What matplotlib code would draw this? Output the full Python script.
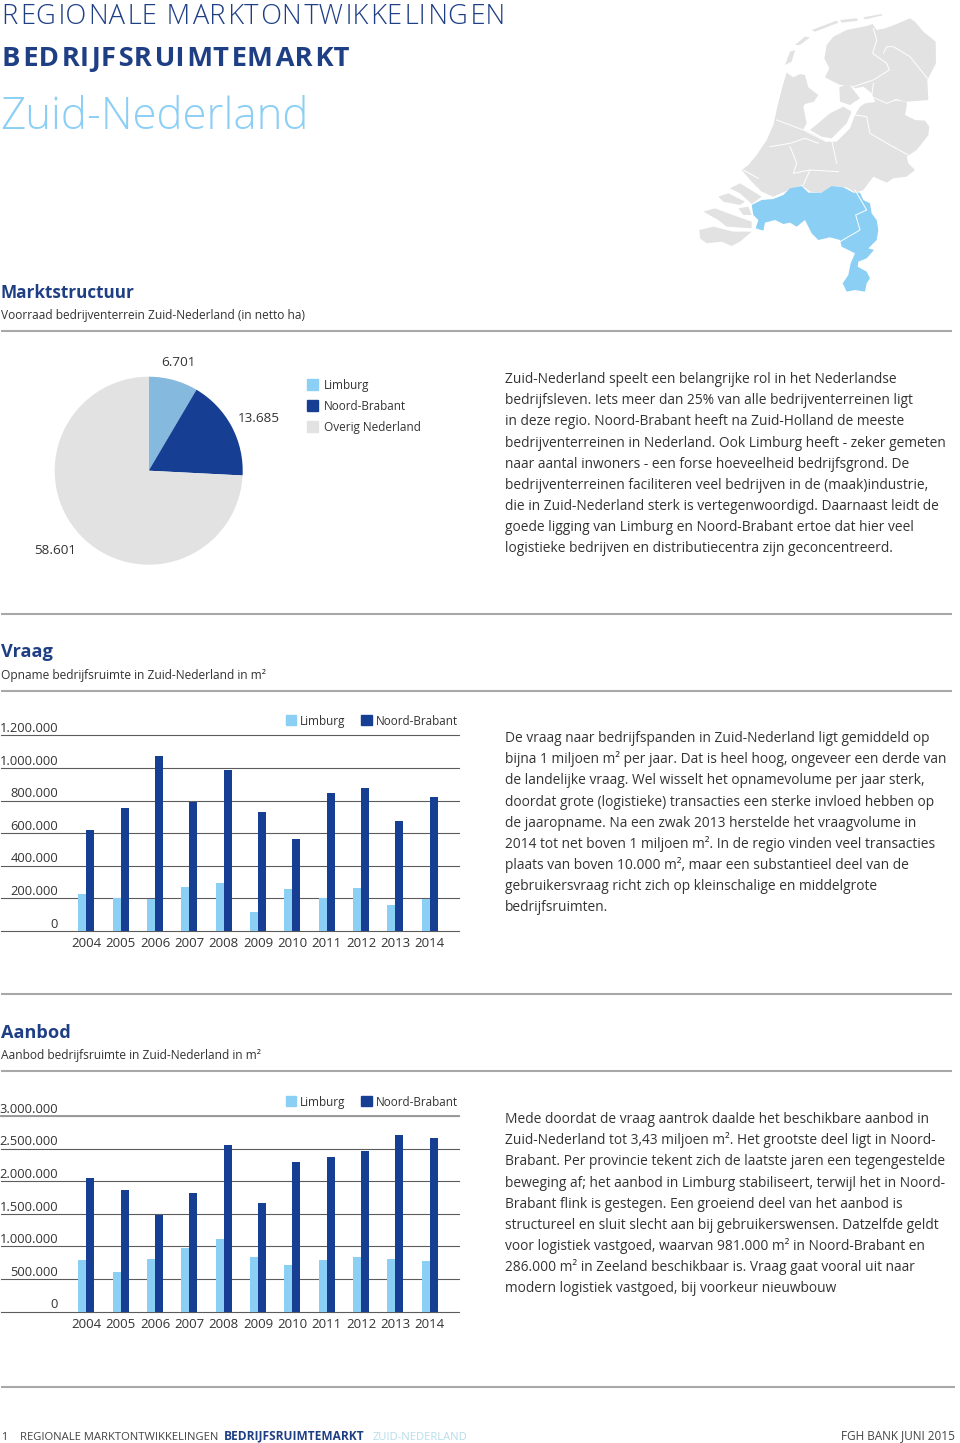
import matplotlib
matplotlib.use("Agg")
import matplotlib.pyplot as plt
from matplotlib.patches import Polygon, Rectangle

plt.rcParams['font.family'] = ['Open Sans', 'DejaVu Sans']

W, H = 960, 1443
LIGHT = '#8ccff5'
DARK = '#163f94'
HEAD = '#1f3f85'
GREY = '#e2e2e2'
TEXT = '#333333'

# taartdiagram
pie_labels = ['Limburg', 'Noord-Brabant', 'Overig Nederland']
pie_values = [6701, 13685, 58601]
pie_texts = ['6.701', '13.685', '58.601']

# staafdiagrammen
years = ['2004', '2005', '2006', '2007', '2008', '2009', '2010', '2011', '2012', '2013', '2014']
vraag_limburg = [227000, 202000, 196000, 270000, 294000, 117000, 255000, 202000, 262000, 161000, 198000]
vraag_brabant = [621000, 752000, 1075000, 793000, 985000, 730000, 564000, 844000, 875000, 675000, 820000]
vraag_ticks = [0, 200000, 400000, 600000, 800000, 1000000, 1200000]
aanbod_limburg = [792000, 608000, 807000, 971000, 1119000, 833000, 716000, 797000, 833000, 813000, 777000]
aanbod_brabant = [2044000, 1870000, 1482000, 1824000, 2550000, 1666000, 2290000, 2366000, 2468000, 2714000, 2668000]
aanbod_ticks = [0, 500000, 1000000, 1500000, 2000000, 2500000, 3000000]

tekst_markt = [
    'Zuid-Nederland speelt een belangrijke rol in het Nederlandse',
    'bedrijfsleven. Iets meer dan 25% van alle bedrijventerreinen ligt',
    'in deze regio. Noord-Brabant heeft na Zuid-Holland de meeste',
    'bedrijventerreinen in Nederland. Ook Limburg heeft - zeker gemeten',
    'naar aantal inwoners - een forse hoeveelheid bedrijfsgrond. De',
    'bedrijventerreinen faciliteren veel bedrijven in de (maak)industrie,',
    'die in Zuid-Nederland sterk is vertegenwoordigd. Daarnaast leidt de',
    'goede ligging van Limburg en Noord-Brabant ertoe dat hier veel',
    'logistieke bedrijven en distributiecentra zijn geconcentreerd.',
]
tekst_vraag = [
    'De vraag naar bedrijfspanden in Zuid-Nederland ligt gemiddeld op',
    'bijna 1 miljoen m² per jaar. Dat is heel hoog, ongeveer een derde van',
    'de landelijke vraag. Wel wisselt het opnamevolume per jaar sterk,',
    'doordat grote (logistieke) transacties een sterke invloed hebben op',
    'de jaaropname. Na een zwak 2013 herstelde het vraagvolume in',
    '2014 tot net boven 1 miljoen m². In de regio vinden veel transacties',
    'plaats van boven 10.000 m², maar een substantieel deel van de',
    'gebruikersvraag richt zich op kleinschalige en middelgrote',
    'bedrijfsruimten.',
]
tekst_aanbod = [
    'Mede doordat de vraag aantrok daalde het beschikbare aanbod in',
    'Zuid-Nederland tot 3,43 miljoen m². Het grootste deel ligt in Noord-',
    'Brabant. Per provincie tekent zich de laatste jaren een tegengestelde',
    'beweging af; het aanbod in Limburg stabiliseert, terwijl het in Noord-',
    'Brabant flink is gestegen. Een groeiend deel van het aanbod is',
    'structureel en sluit slecht aan bij gebruikerswensen. Datzelfde geldt',
    'voor logistiek vastgoed, waarvan 981.000 m² in Noord-Brabant en',
    '286.000 m² in Zeeland beschikbaar is. Vraag gaat vooral uit naar',
    'modern logistiek vastgoed, bij voorkeur nieuwbouw',
]

# kaart, overgetrokken in pixels van de uitsnede
kaart_grijs = [
    [(290, 218), (310, 232), (330, 222), (345, 225), (355, 262), (385, 285), (372, 305), (345, 312), (340, 320), (350, 370),
     (340, 388), (375, 405), (410, 425), (440, 425), (480, 385), (495, 345), (510, 320), (525, 310), (600, 300), (650, 305),
     (650, 320), (645, 345), (675, 360), (705, 362), (718, 380), (715, 405), (700, 425), (680, 450), (650, 470), (655, 490),
     (675, 510), (650, 530), (610, 535), (590, 548), (550, 530), (520, 570), (497, 578), (470, 562), (425, 558), (400, 578),
     (360, 575), (335, 555), (300, 568), (250, 590), (215, 575), (185, 545), (155, 510), (175, 495), (200, 465), (230, 420),
     (250, 375), (262, 320), (280, 250)],
    [(410, 135), (430, 110), (470, 90), (530, 78), (548, 72), (560, 90), (585, 85), (620, 72), (660, 55), (675, 65),
     (700, 95), (737, 125), (738, 190), (725, 215), (712, 240), (715, 300), (650, 305), (620, 298), (590, 310), (555, 305),
     (545, 280), (520, 260), (495, 265), (480, 255), (450, 255), (420, 240), (405, 232), (418, 205), (403, 175)],
    [(360, 390), (420, 340), (460, 320), (485, 335), (470, 370), (425, 415), (395, 410)],
    [(448, 262), (475, 250), (510, 295), (480, 315), (450, 305)],
    [(285, 195), (300, 155), (315, 150), (305, 185)],
    [(315, 135), (345, 110), (360, 112), (330, 135)],
    [(365, 90), (440, 62), (445, 68), (375, 95)],
    [(450, 60), (500, 55), (505, 62), (455, 68)],
    [(520, 52), (575, 42), (578, 46), (525, 58)],
    [(120, 565), (150, 550), (215, 590), (185, 612), (150, 580)],
    [(85, 590), (115, 580), (165, 605), (150, 615), (100, 605)],
    [(40, 635), (75, 625), (115, 640), (185, 665), (185, 685), (110, 680), (85, 660)],
    [(28, 690), (70, 680), (130, 695), (185, 695), (150, 725), (125, 738), (95, 725), (50, 730), (30, 715)],
    [(145, 625), (175, 620), (185, 645), (160, 645)],
]
kaart_blauw = [(185, 615), (215, 600), (250, 597), (280, 585), (300, 565), (335, 558), (355, 578), (395, 578), (425, 558),
               (460, 562), (490, 578), (510, 578), (520, 600), (540, 610), (545, 640), (560, 660), (565, 690), (560, 720),
               (535, 745), (552, 750), (530, 775), (505, 785), (503, 800), (530, 815), (540, 835), (530, 850), (525, 875),
               (495, 870), (470, 875), (458, 850), (475, 825), (482, 790), (495, 760), (455, 740), (450, 720), (420, 712),
               (385, 720), (365, 700), (345, 660), (320, 680), (300, 668), (280, 672), (255, 660), (225, 668), (220, 692),
               (197, 685), (205, 660), (190, 645)]
kaart_lijnen = [
    [(550, 85), (560, 120), (548, 160), (590, 190), (598, 210), (550, 240), (490, 260)],
    [(580, 160), (590, 140), (610, 140), (660, 170), (712, 235)],
    [(550, 250), (545, 290), (590, 310), (620, 298)],
    [(260, 360), (340, 390), (410, 425)],
    [(240, 440), (300, 430), (345, 415), (385, 430)],
    [(300, 440), (320, 490), (310, 520), (360, 510), (445, 515)],
    [(425, 420), (440, 490)],
    [(495, 345), (530, 350), (540, 400), (600, 435), (655, 465)],
    [(360, 510), (340, 555)],
    [(160, 510), (205, 535)],
    [(495, 570), (530, 630), (497, 645), (510, 690), (450, 725)],
]


def kaart_xy(pts):
    return [(690 + x / 3, y / 3) for x, y in pts]


def spaced(s):
    # matplotlib kent geen letterspatiering: om de letter een hair space
    out = ''
    for i, c in enumerate(s):
        out += c
        if i % 2 == 0 and i < len(s) - 1:
            out += '\u200a'
    return out


fig = plt.figure(figsize=(W / 100, H / 100), dpi=100)
page = fig.add_axes([0, 0, 1, 1])
page.set_xlim(0, W)
page.set_ylim(H, 0)
page.axis('off')
renderer = fig.canvas.get_renderer()


def put(x, y, s, size=9.9, color=TEXT, width=None, ha='left', **kw):
    t = page.text(x, y, s, fontsize=size, color=color, ha=ha, va='baseline', **kw)
    if width is not None:  # lettergrootte passend maken op de breedte
        w = t.get_window_extent(renderer).width
        t.set_fontsize(size * width / w)
    return t


def rule(y, x1=1, x2=952):
    page.plot([x1, x2], [y, y], color='#a8a8a8', lw=1.5, solid_capstyle='butt')


def block(lines, y0):
    for i, s in enumerate(lines):
        put(505, y0 + 21.17 * i, s)


def px_axes(left, top, right, bottom):
    return fig.add_axes([left / W, 1 - bottom / H, (right - left) / W, (bottom - top) / H])


def bars(top, bottom, limburg, brabant, ticks):
    ax = px_axes(1, top, 459, bottom)
    ax.patch.set_visible(False)
    step = 34.34
    ax.set_xlim((1 - 86.3) / step, (459 - 86.3) / step)
    ax.set_ylim(0, ticks[-1])
    pos = list(range(len(years)))
    bw = 8 / step
    ax.bar([p - bw / 2 for p in pos], limburg, bw, color=LIGHT, zorder=3)
    ax.bar([p + bw / 2 for p in pos], brabant, bw, color=DARK, zorder=3)
    ax.set_xticks(pos, years, fontsize=9.5, color=TEXT)
    ax.set_yticks(ticks, [])
    ax.tick_params(length=0)
    ax.tick_params(axis='x', pad=4.5)
    ax.grid(axis='y', color='#5c5c5c', lw=0.8, zorder=1, clip_on=False)
    ax.set_axisbelow(True)
    for line in ax.get_ygridlines():
        line.set_clip_on(False)
    for side in ['top', 'right', 'left', 'bottom']:
        ax.spines[side].set_visible(False)
    for v in ticks:
        lab = f'{v:,}'.replace(',', '.')
        ax.annotate(lab, xy=(0, v), xycoords=('axes fraction', 'data'), xytext=(57 * 0.72, 0.2),
                    textcoords='offset points', ha='right', va='bottom', fontsize=9.3, color=TEXT,
                    annotation_clip=False)
    # legenda
    ly = top - 20
    page.add_patch(Rectangle((286, ly), 10, 10, color=LIGHT))
    put(300, ly + 10, pie_labels[0], size=9, width=46)
    page.add_patch(Rectangle((361, ly), 11, 10, color=DARK))
    put(376, ly + 10, pie_labels[1], size=9, width=83)
    return ax


# koppen
put(2, 24, spaced('REGIONALE MARKTONTWIKKELINGEN'), size=19, color=HEAD, width=502, fontweight='light')
put(2, 66, spaced('BEDRIJFSRUIMTEMARKT'), size=20, color=HEAD, width=346, fontweight='bold')
put(0, 129, 'Zuid-Nederland', size=32, color=LIGHT, width=310, fontweight='light')

# kaart
for pts in kaart_grijs:
    page.add_patch(Polygon(kaart_xy(pts), closed=True, fc=GREY, ec='none'))
page.add_patch(Polygon(kaart_xy(kaart_blauw), closed=True, fc=LIGHT, ec='none'))
for pts in kaart_lijnen:
    xy = kaart_xy(pts)
    page.plot([p[0] for p in xy], [p[1] for p in xy], color='white', lw=0.7)

# Marktstructuur
put(1, 298, 'Marktstructuur', size=14, color=HEAD, width=135, fontweight='bold')
put(1, 319, 'Voorraad bedrijventerrein Zuid-Nederland (in netto ha)', width=306)
rule(331)

pie_ax = px_axes(148.7 - 94, 470.7 - 94, 148.7 + 94, 470.7 + 94)
pie_ax.pie(pie_values, colors=['#85b9de', DARK, GREY], startangle=90, counterclock=False, radius=1,
           wedgeprops={'lw': 0})
pie_ax.set_xlim(-1, 1)
pie_ax.set_ylim(-1, 1)
put(178.5, 366.5, pie_texts[0], size=9.7, ha='center')
put(259, 422, pie_texts[1], size=9.7, ha='center')
put(55.5, 553.5, pie_texts[2], size=9.7, ha='center')
pie_widths = [46, 83, 98]
for i, c in enumerate([LIGHT, DARK, GREY]):
    y = 379 + 21 * i
    page.add_patch(Rectangle((307, y), 11, 11, color=c))
    put(324, y + 10, pie_labels[i], size=9, width=pie_widths[i])
block(tekst_markt, 383)

# Vraag
rule(614)
put(1, 657, 'Vraag', size=14, color=HEAD, width=52, fontweight='bold')
put(1, 679, 'Opname bedrijfsruimte in Zuid-Nederland in m²', width=267)
rule(691)
bars(735.3, 931, vraag_limburg, vraag_brabant, vraag_ticks)
block(tekst_vraag, 742)

# Aanbod
rule(994)
put(1, 1038, 'Aanbod', size=14, color=HEAD, width=70, fontweight='bold')
put(1, 1059, 'Aanbod bedrijfsruimte in Zuid-Nederland in m²', width=263)
rule(1070.5)
ax_aanbod = bars(1116, 1311.7, aanbod_limburg, aanbod_brabant, aanbod_ticks)
ax_aanbod.axhline(aanbod_ticks[-1], color='#9a9a9a', lw=1.4, clip_on=False, zorder=2)
block(tekst_aanbod, 1123)

# voettekst
rule(1387, 1, 955)
put(1, 1439.5, '1', size=7.5)
put(20, 1439.5, 'REGIONALE MARKTONTWIKKELINGEN', size=7.5, color='#444444', width=198)
put(224, 1439.5, 'BEDRIJFSRUIMTEMARKT', size=7.5, color=HEAD, width=138, fontweight='bold')
put(373, 1439.5, 'ZUID-NEDERLAND', size=7.5, color='#b5dcea', width=94)
put(955, 1439.5, 'FGH BANK JUNI 2015', size=7.5, color='#444444', ha='right', width=114)

fig.savefig('out.png', dpi=100)
